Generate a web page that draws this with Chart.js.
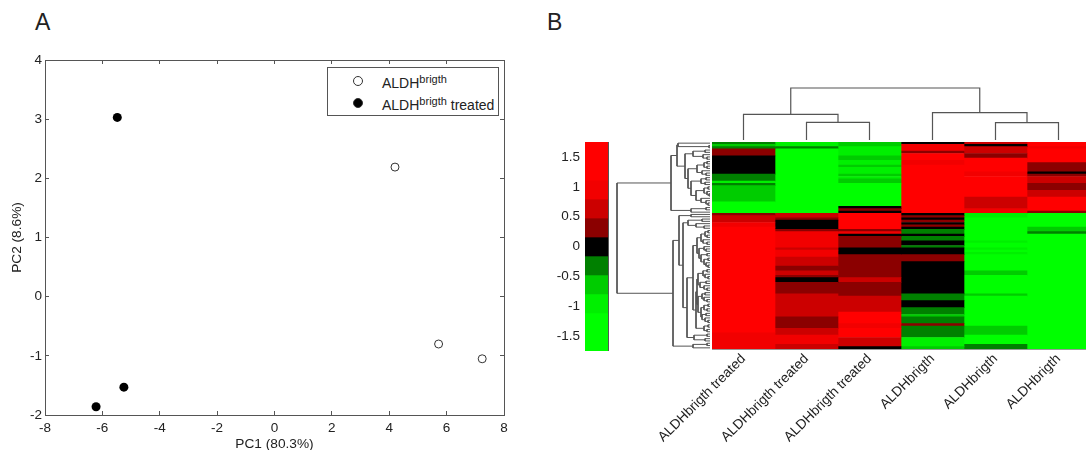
<!DOCTYPE html>
<html lang="en">
<head>
<meta charset="UTF-8">
<title>PCA and heatmap</title>
<script src="https://cdn.jsdelivr.net/npm/chart.js"></script>
<style>
    html, body { margin: 0; width: 1086px; height: 450px; overflow: hidden; background: #fff; }
    body { position: relative; font-family: "Liberation Sans", Arial, sans-serif; color: #222; }
    canvas { position: absolute; }
    .panel { position: absolute; top: 8px; font-size: 23px; line-height: 28px; }
    #legendBox { position: absolute; left: 327px; top: 67px; width: 170px; height: 47px; border: 1px solid #555; background: #fff; font-size: 14px; }
    #legendBox span.txt { position: absolute; left: 54px; white-space: nowrap; line-height: 16px; }
    #legendBox sup { font-size: 11px; line-height: 0; vertical-align: 5px; }
    #legendBox i { position: absolute; left: 25px; width: 8px; height: 8px; border-radius: 50%; border: 1px solid #333; }
</style>
</head>
<body>
<div class="panel" style="left:35px">A</div>
<div class="panel" style="left:547px">B</div>

<canvas id="pcaChart" width="530" height="450" style="left:0;top:0"></canvas>
<div id="legendBox">
    <i style="top:8px;background:#fff"></i><span class="txt" style="top:7px">ALDH<sup>brigth</sup></span>
    <i style="top:30px;background:#000"></i><span class="txt" style="top:29px">ALDH<sup>brigth</sup> treated</span>
</div>
<canvas id="scaleChart" width="72" height="243" style="left:540px;top:125px"></canvas>
<canvas id="rowTree" width="100" height="207" style="left:610px;top:142px"></canvas>
<canvas id="colTree" width="378" height="60" style="left:712px;top:80px"></canvas>
<canvas id="heatChart" width="450" height="308" style="left:640px;top:142px"></canvas>

<script>
// panel A
const untreatedX = [4.2, 5.72, 7.24];
const untreatedY = [2.19, -0.8, -1.05];
const treatedX = [-5.48, -5.25, -6.22];
const treatedY = [3.03, -1.53, -1.86];
const pcaXTicks = [-8, -6, -4, -2, 0, 2, 4, 6, 8];
const pcaYTicks = [-2, -1, 0, 1, 2, 3, 4];

// panel B: color key
const keyEdges = [-1.75, -1.432, -1.114, -0.795, -0.477, -0.159, 0.159, 0.477, 0.795, 1.114, 1.432, 1.75];
const keyColors = ['#00ff00', '#00ff00', '#00f000', '#00cc00', '#008000', '#000000', '#8b0000', '#cc0000', '#f20000', '#ff0000', '#ff0000'];
const keyTicks = [-1.5, -1, -0.5, 0, 0.5, 1, 1.5];

// panel B: heatmap columns, runs of [row count, value] from the top row down
const columnIds = ['t1', 't2', 't3', 'u1', 'u2', 'u3'];
const columnLabels = ['ALDHbrigth treated', 'ALDHbrigth treated', 'ALDHbrigth treated', 'ALDHbrigth', 'ALDHbrigth', 'ALDHbrigth'];
const rowCount = 90;
const treated1 = [[1,-.3],[1,-.6],[1,-.3],[3,.3],[8,0],[3,-.3],[1,-.95],[1,-.3],[7,-.6],[5,-1.3],[1,.3],[3,.6],[2,.95],[46,1.3],[1,.95],[6,1.1]];
const treated2 = [[2,-.95],[1,-.3],[28,-1.3],[2,.6],[1,.3],[4,0],[1,.3],[7,.95],[1,.6],[3,.95],[4,.6],[2,.3],[2,.6],[1,.3],[2,0],[5,.3],[10,.6],[5,.3],[3,.6],[4,1],[2,.6]];
const treated3 = [[2,-.6],[4,-.95],[2,-.6],[2,-.95],[1,-.6],[3,-.95],[1,-.6],[1,-.95],[2,-.6],[10,-1.3],[1,0],[1,.3],[1,0],[7,1.3],[1,.3],[1,1],[1,0],[5,.3],[3,0],[10,.3],[2,.6],[6,.3],[7,.6],[5,1.3],[2,.95],[4,1.3],[4,.6],[1,0]];
const untreated1 = [[1,0],[3,.95],[1,.4],[3,1.3],[2,.8],[21,1.3],[1,0],[1,.3],[1,0],[1,.3],[1,0],[1,.3],[1,0],[2,-.3],[1,0],[2,-.3],[2,0],[1,-.3],[3,0],[3,.3],[14,0],[3,-.3],[3,0],[3,-.3],[1,-.6],[3,-.3],[1,.3],[5,-.3],[4,-.95],[1,-.6]];
const untreated2 = [[1,.6],[1,0],[3,.6],[2,.3],[6,1.3],[2,.9],[9,1.3],[5,.6],[2,.95],[2,-.95],[10,-1.3],[1,-.95],[2,-1.3],[1,-.95],[1,-1.3],[1,-.95],[7,-1.3],[2,-.6],[8,-1.3],[1,-.6],[13,-1.3],[4,-.6],[4,-1.3],[2,-.3]];
const untreated3 = [[2,1.3],[1,.95],[6,1.3],[4,.3],[1,0],[1,.3],[3,.6],[3,.3],[3,.6],[6,1.3],[1,.4],[6,-1.3],[2,-.6],[1,-.3],[50,-1.3]];
const columnRuns = [treated1, treated2, treated3, untreated1, untreated2, untreated3];

// dendrograms: [link height, child, child], 0 is a leaf
const colTreeNodes = [5.2, [2.57, 0, [1.77, 0, 0]], [2.73, 0, [1.73, 0, 0]]];
const upperRows = [39,
    [33, [32, 0, [1, 0, 0]],
        [25, [17, [5, 0, 0], [7, 0, [3, 0, 0]]],
            [22, [13, [6, [3, 0, 0], [3, 0, 0]], [8, 0, [4, 0, 0]]],
                [19, [9, [4, 0, 0], [5, 0, 0]], [14, [6, [2, 0, 0], [3, 0, [1, 0, 0]]], [9, 0, [4, 0, [2, 0, 0]]]]]]]],
    [19, [4, 0, 0], 0]];
const lowerRowsA = [13, [9, [5, [2, 0, 0], [3, 0, 0]], [7, 0, [3, 0, 0]]], [11, [6, 0, [4, 0, 0]], [9, [3, 0, 0], [6, [2, 0, 0], [4, 0, [2, 0, 0]]]]]];
const lowerRowsB = [14,
    [13, [12, [7, [3, 0, 0], [5, 0, [2, 0, 0]]], [10, [4, 0, 0], [6, 0, [3, 0, 0]]]],
        [12, [8, [5, 0, 0], [6, 0, [3, 0, 0]]], [9, [6, [2, 0, 0], [3, 0, 0]], [8, [4, 0, 0], [5, 0, [2, 0, 0]]]]]],
    [6, [2, 0, 0], [3, 0, 0]]];
const lowerRows = [37,
    [31, [19, 0, 0],
        [27, [22, [8, 0, 0], [14, 0, [6, 0, 0]]],
            [23, [17, lowerRowsA, lowerRowsB], [16, [3, 0, 0], [5, 0, 0]]]]],
    [17, [3, 0, 0], 0]];
const rowTreeNodes = [93, upperRows, lowerRows];

const lineColor = '#555';
const fontFamily = '"Liberation Sans", Arial, sans-serif';
Chart.defaults.animation = false;
Chart.defaults.responsive = false;
Chart.defaults.font.family = fontFamily;
Chart.defaults.color = '#222';
Chart.defaults.plugins.legend.display = false;
Chart.defaults.plugins.tooltip.enabled = false;

function fixedTicks(values) {
    return scale => { scale.ticks = values.map(v => ({ value: v })); };
}

// frame axis with matlab style ticks pointing into the plot
function frameAxis(position, min, max, values, size) {
    return {
        type: 'linear', position: position, min: min, max: max,
        afterBuildTicks: fixedTicks(values),
        afterFit: s => { if (s.isHorizontal()) s.height = size; else s.width = size; },
        border: { display: true, color: lineColor, width: 1 },
        grid: { drawOnChartArea: false, color: lineColor, tickLength: -4 },
        ticks: { display: false }
    };
}

function points(xs, ys) {
    return xs.map((x, i) => ({ x: x, y: ys[i] }));
}

const pcaBottom = frameAxis('bottom', -8, 8, pcaXTicks, 35);
pcaBottom.ticks = { display: true, padding: 9, autoSkip: false, maxRotation: 0, font: { size: 13.5 }, color: '#222' };
pcaBottom.title = { display: true, text: 'PC1 (80.3%)', font: { size: 13.7 }, color: '#222', padding: { top: 0, bottom: -2 } };
const pcaLeft = frameAxis('left', -2, 4, pcaYTicks, 45);
pcaLeft.ticks = { display: true, padding: 7, font: { size: 13.5 }, color: '#222' };
pcaLeft.title = { display: true, text: 'PC2 (8.6%)', font: { size: 13.7 }, color: '#222', padding: { top: 9, bottom: 0 } };

new Chart(document.getElementById('pcaChart'), {
    type: 'scatter',
    data: {
        datasets: [
            { label: 'ALDHbrigth', data: points(untreatedX, untreatedY), pointRadius: 4, borderWidth: 1, borderColor: '#333', backgroundColor: '#fff' },
            { label: 'ALDHbrigth treated', data: points(treatedX, treatedY), pointRadius: 4.5, borderWidth: 0, backgroundColor: '#000' }
        ]
    },
    options: {
        layout: { padding: { top: 60, right: 26, left: 0, bottom: 0 } },
        scales: {
            x: pcaBottom,
            y: pcaLeft,
            xTop: frameAxis('top', -8, 8, pcaXTicks, 0),
            yRight: frameAxis('right', -2, 4, pcaYTicks, 0)
        }
    }
});

function keyColor(value) {
    for (let i = 0; i < keyColors.length; i++) {
        if (value < keyEdges[i + 1]) return keyColors[i];
    }
    return keyColors[keyColors.length - 1];
}

// color key, the left axis keeps its width so the labels are not clipped
const keyLeft = frameAxis('left', -1.75, 1.75, keyTicks, 45);
keyLeft.ticks = { display: true, padding: 9, font: { size: 13.5 }, color: '#222', callback: v => String(v) };
new Chart(document.getElementById('scaleChart'), {
    type: 'bar',
    data: {
        labels: ['key'],
        datasets: [{
            data: keyColors.map((c, i) => ({ x: 'key', y: [keyEdges[i], keyEdges[i + 1]] })),
            backgroundColor: keyColors,
            barPercentage: 1, categoryPercentage: 1, grouped: false
        }]
    },
    options: {
        layout: { padding: { left: 0, right: 4, top: 0, bottom: 0 } },
        scales: {
            x: {
                type: 'category', afterFit: s => { s.height = 0; },
                border: { display: true, color: lineColor },
                grid: { drawOnChartArea: false, drawTicks: false }, ticks: { display: false }
            },
            xTop: {
                type: 'linear', position: 'top', afterFit: s => { s.height = 0; },
                border: { display: true, color: lineColor },
                grid: { drawOnChartArea: false, drawTicks: false }, ticks: { display: false }
            },
            y: keyLeft,
            yRight: frameAxis('right', -1.75, 1.75, keyTicks, 0)
        }
    }
});

// walks a tree and returns one line per link
function treeLines(node, cursor, lines) {
    if (node === 0) {
        cursor.next += 1;
        return { pos: cursor.next - 0.5, h: 0 };
    }
    const a = treeLines(node[1], cursor, lines);
    const b = treeLines(node[2], cursor, lines);
    lines.push([[a.pos, a.h], [a.pos, node[0]], [b.pos, node[0]], [b.pos, b.h]]);
    return { pos: (a.pos + b.pos) / 2, h: node[0] };
}

function treeDatasets(nodes, toPoint, width) {
    const lines = [];
    treeLines(nodes, { next: 0 }, lines);
    return lines.map(line => ({
        data: line.map(toPoint), showLine: true, pointRadius: 0,
        borderColor: lineColor, borderWidth: width, clip: false
    }));
}

const hiddenAxis = (min, max, reverse) => ({ type: 'linear', display: false, min: min, max: max, reverse: reverse });

new Chart(document.getElementById('rowTree'), {
    type: 'scatter',
    data: { datasets: treeDatasets(rowTreeNodes, p => ({ x: p[1], y: p[0] }), 1) },
    options: { scales: { x: hiddenAxis(0, 100, true), y: hiddenAxis(0, rowCount, true) } }
});

new Chart(document.getElementById('colTree'), {
    type: 'scatter',
    data: { datasets: treeDatasets(colTreeNodes, p => ({ x: p[0], y: p[1] }), 1.2) },
    options: { scales: { x: hiddenAxis(0, 6, false), y: hiddenAxis(0, 6, false) } }
});

// heatmap, one dataset per column, one floating bar per run
const heatDatasets = columnRuns.map((runs, c) => {
    let row = 0;
    const cells = runs.map(run => {
        const cell = { x: columnIds[c], y: [row, row + run[0]] };
        row += run[0];
        return cell;
    });
    return {
        data: cells,
        backgroundColor: runs.map(run => keyColor(run[1])),
        barPercentage: 1, categoryPercentage: 1, grouped: false
    };
});

new Chart(document.getElementById('heatChart'), {
    type: 'bar',
    data: { labels: columnIds, datasets: heatDatasets },
    options: {
        layout: { padding: { left: 72, right: 0, top: 0, bottom: 0 } },
        scales: {
            x: {
                type: 'category',
                afterFit: s => { s.height = 101; },
                border: { display: true, color: '#999' },
                grid: { display: false },
                ticks: {
                    autoSkip: false, minRotation: 45, maxRotation: 45, padding: -6,
                    font: { size: 13.7 }, color: '#222',
                    callback: (v, i) => columnLabels[i]
                }
            },
            y: {
                type: 'linear', min: 0, max: rowCount, reverse: true,
                afterFit: s => { s.width = 0; },
                border: { display: true, color: '#999' },
                grid: { display: false }, ticks: { display: false }
            }
        }
    }
});
</script>
</body>
</html>
